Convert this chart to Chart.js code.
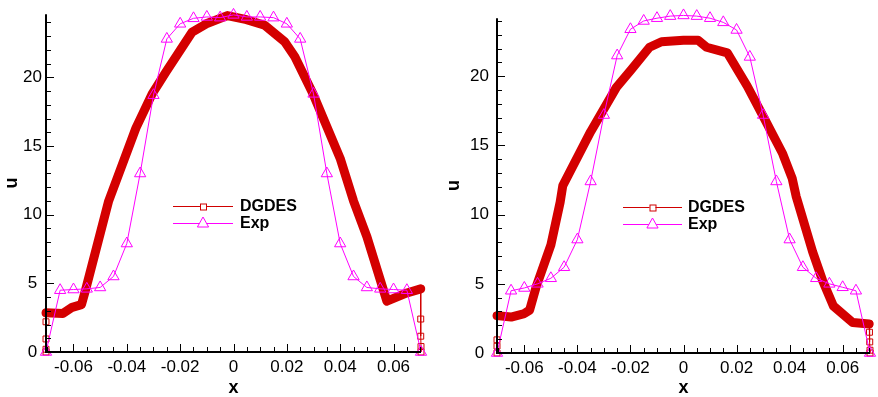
<!DOCTYPE html>
<html>
<head>
<meta charset="utf-8">
<script src="https://cdn.jsdelivr.net/npm/chart.js@4.4.0/dist/chart.umd.min.js"></script>
<style>
  html, body { margin:0; padding:0; background:#fff; overflow:hidden; }
  .panel { position:absolute; top:0; }
</style>
</head>
<body>
<div class="panel" style="left:0"><canvas id="chLeft" width="440" height="397"></canvas></div>
<div class="panel" style="left:440px"><canvas id="chRight" width="438" height="397"></canvas></div>
<script>
// ---- data ----
const X_MIN = -0.0703, X_MAX = 0.0703;

// experiment stations (same in both panels)
const expX = [-0.0703, -0.065, -0.060, -0.055, -0.050, -0.045, -0.040, -0.035, -0.030, -0.025,
              -0.020, -0.015, -0.010, -0.005, 0, 0.005, 0.010, 0.015, 0.020, 0.025,
              0.030, 0.035, 0.040, 0.045, 0.050, 0.055, 0.060, 0.065, 0.0703];
const expLeftU  = [0, 4.5, 4.55, 4.6, 4.7, 5.5, 7.9, 13.0, 18.7, 22.8,
                   23.9, 24.3, 24.4, 24.35, 24.55, 24.4, 24.4, 24.35, 23.9, 22.8,
                   18.8, 13.0, 7.9, 5.5, 4.7, 4.6, 4.55, 4.5, 0];
const expRightU = [0, 4.5, 4.7, 5.0, 5.4, 6.2, 8.2, 12.4, 17.2, 21.5,
                   23.4, 24.0, 24.2, 24.35, 24.4, 24.35, 24.2, 23.9, 23.35, 21.4,
                   17.2, 12.4, 8.2, 6.2, 5.4, 5.0, 4.75, 4.5, 0];

// DGDES, left panel (dense profile)
const dgLeftX = [-0.0703, -0.064, -0.0605, -0.057, -0.0555, -0.0468, -0.0366, -0.0305, -0.0253, -0.0155,
                 -0.0102, -0.0023, 0.0049, 0.0117, 0.0192, 0.023, 0.0298, 0.040, 0.045, 0.050,
                 0.0575, 0.065, 0.0702];
const dgLeftU = [2.85, 2.8, 3.25, 3.45, 4.5, 11.0, 16.3, 18.8, 20.4, 23.3,
                 23.9, 24.5, 24.2, 23.8, 22.6, 21.5, 18.8, 14.1, 11.0, 8.4,
                 3.7, 4.3, 4.6];
// DGDES near-wall points, left panel
const wallLeftAX = [-0.0703, -0.0703, -0.0703, -0.0703, -0.0703];
const wallLeftAU = [2.85, 2.2, 0.95, 0.2, 0];
const wallLeftBX = [0.0702, 0.0702, 0.0702, 0.0703, 0.0703];
const wallLeftBU = [4.6, 2.4, 1.15, 0.4, 0];

// DGDES, right panel
const dgRightX = [-0.0703, -0.065, -0.060, -0.058, -0.0555, -0.050, -0.0465, -0.0455, -0.035, -0.0253,
                  -0.0196, -0.0128, -0.0083, 0.0, 0.0055, 0.0087, 0.0165, 0.024, 0.0306, 0.0374,
                  0.041, 0.0425, 0.0487, 0.0525, 0.0565, 0.0638, 0.0700];
const dgRightU = [2.7, 2.6, 2.85, 3.1, 4.8, 7.8, 10.9, 12.1, 16.0, 19.2,
                  20.5, 22.1, 22.5, 22.6, 22.6, 22.1, 21.7, 19.3, 16.9, 14.4,
                  12.6, 11.3, 7.3, 5.2, 3.4, 2.2, 2.1];
const wallRightAX = [-0.0703, -0.0703, -0.0703, -0.0703];
const wallRightAU = [2.7, 0.95, 0.5, 0];
const wallRightBX = [0.0700, 0.0701, 0.0702, 0.0703, 0.0703];
const wallRightBU = [2.1, 1.5, 0.8, 0.2, 0];

const seriesNames = ['DGDES', 'Exp'];

// ---- styling ----
const FONT = "'Liberation Sans', Arial, Helvetica, sans-serif";
const RED = '#d40000';
const WALL = '#d00000';
const MAG = '#ff00ff';

function pts(xs, us){ return xs.map((x, i) => ({ x, y: us[i] })); }

function fmtX(v){
  const r = Math.round(v * 100) / 100;
  return r === 0 ? '0' : String(r);
}

// axes drawn Tecplot-style: thick lines, ticks pointing into the plot
const tecAxes = {
  id: 'tecAxes',
  afterDraw(chart){
    const { ctx, chartArea: a, scales: { x, y } } = chart;
    ctx.save();
    ctx.strokeStyle = '#000';
    ctx.lineWidth = 1;
    for (let k = -14; k <= 14; k++){
      const v = k * 0.005;
      if (v < X_MIN || v > X_MAX) continue;
      const px = Math.round(x.getPixelForValue(v)) + 0.5;
      const len = (k % 4 === 0) ? 8 : 5;
      ctx.beginPath(); ctx.moveTo(px, a.bottom); ctx.lineTo(px, a.bottom - len); ctx.stroke();
    }
    for (let k = 0; k <= Math.floor(y.max); k++){
      const py = Math.round(y.getPixelForValue(k)) + 0.5;
      const len = (k % 5 === 0) ? 8 : 5;
      ctx.beginPath(); ctx.moveTo(a.left, py); ctx.lineTo(a.left + len, py); ctx.stroke();
    }
    ctx.lineWidth = 2;
    ctx.beginPath();
    ctx.moveTo(a.left, a.top);
    ctx.lineTo(a.left, a.bottom);
    ctx.lineTo(a.right, a.bottom);
    ctx.stroke();
    ctx.restore();
  }
};

// legend box placed inside the plot
const innerLegend = {
  id: 'innerLegend',
  afterDraw(chart, args, o){
    const { ctx } = chart;
    ctx.save();
    ctx.font = `bold 16px ${FONT}`;
    ctx.textBaseline = 'middle';
    ctx.fillStyle = '#000';
    const mid = (o.x0 + o.x1) / 2;
    // DGDES row
    ctx.strokeStyle = WALL; ctx.lineWidth = 1;
    ctx.beginPath(); ctx.moveTo(o.x0, o.y0 + 0.5); ctx.lineTo(o.x1, o.y0 + 0.5); ctx.stroke();
    ctx.fillStyle = '#fff';
    ctx.fillRect(mid - 3, o.y0 - 2.5, 6, 6);
    ctx.strokeRect(mid - 3 + 0.5, o.y0 - 2.5 + 0.5, 6, 6);
    // Exp row
    ctx.strokeStyle = MAG;
    ctx.beginPath(); ctx.moveTo(o.x0, o.y1 + 0.5); ctx.lineTo(o.x1, o.y1 + 0.5); ctx.stroke();
    ctx.beginPath();
    ctx.moveTo(mid, o.y1 - 6); ctx.lineTo(mid + 5.6, o.y1 + 4); ctx.lineTo(mid - 5.6, o.y1 + 4); ctx.closePath();
    ctx.fill(); ctx.stroke();
    ctx.fillStyle = '#000';
    ctx.fillText(seriesNames[0], o.tx, o.y0 + 1);
    ctx.fillText(seriesNames[1], o.tx, o.y1 + 1);
    ctx.restore();
  }
};

function makePanel(id, cfg){
  const wallStyle = {
    showLine: true, borderColor: WALL, borderWidth: 1,
    pointStyle: 'rect', pointRadius: 4.2, pointBorderColor: WALL,
    pointBackgroundColor: 'rgba(255,255,255,0)', pointBorderWidth: 1, clip: false, order: 2
  };
  return new Chart(document.getElementById(id), {
    type: 'scatter',
    data: {
      datasets: [
        { label: 'Exp', data: pts(expX, cfg.exp), showLine: true, borderColor: MAG, borderWidth: 1,
          pointStyle: 'triangle', pointRadius: 6.5, pointBorderColor: MAG, pointBorderWidth: 1,
          pointBackgroundColor: 'rgba(255,255,255,0)', clip: false, order: 1 },
        { label: 'DGDES', data: pts(cfg.dgX, cfg.dgU), showLine: true, borderColor: RED, borderWidth: 9,
          borderJoinStyle: 'round', borderCapStyle: 'round', pointRadius: 0, clip: false, order: 3 },
        { label: 'wallA', data: pts(cfg.wAX, cfg.wAU), ...wallStyle },
        { label: 'wallB', data: pts(cfg.wBX, cfg.wBU), ...wallStyle }
      ]
    },
    options: {
      responsive: false, animation: false, devicePixelRatio: 1,
      layout: { padding: { left: 0, top: 12, right: cfg.padRight, bottom: 0 } },
      plugins: { legend: { display: false }, tooltip: { enabled: false }, innerLegend: cfg.legend },
      scales: {
        x: {
          type: 'linear', min: X_MIN, max: X_MAX,
          grid: { display: false, drawTicks: false }, border: { display: false },
          ticks: { stepSize: 0.02, includeBounds: false, autoSkip: false, maxRotation: 0,
                   padding: 5, color: '#000', font: { family: FONT, size: 17 }, callback: fmtX },
          title: { display: true, text: 'x', color: '#000', padding: 0,
                   font: { family: FONT, size: 18, weight: 'bold', lineHeight: 1 } },
          afterFit(s){ s.height = cfg.xH; }
        },
        y: {
          type: 'linear', min: 0, max: cfg.yMax,
          grid: { display: false, drawTicks: false }, border: { display: false },
          ticks: { stepSize: 5, includeBounds: false, crossAlign: 'center', padding: cfg.yPad,
                   color: '#000', font: { family: FONT, size: 17 } },
          title: { display: true, text: 'u', color: '#000', padding: { top: cfg.uPad, bottom: 0 },
                   font: { family: FONT, size: 18, weight: 'bold', lineHeight: 1 } },
          afterFit(s){ s.width = cfg.yW; }
        }
      }
    },
    plugins: [tecAxes, innerLegend]
  });
}

makePanel('chLeft', {
  exp: expLeftU, dgX: dgLeftX, dgU: dgLeftU,
  wAX: wallLeftAX, wAU: wallLeftAU, wBX: wallLeftBX, wBU: wallLeftBU,
  yMax: 24.6, yW: 46, xH: 45, padRight: 19, yPad: 4, uPad: 3,
  legend: { x0: 173, x1: 233, y0: 206, y1: 223, tx: 240 }
});

makePanel('chRight', {
  exp: expRightU, dgX: dgRightX, dgU: dgRightU,
  wAX: wallRightAX, wAU: wallRightAU, wBX: wallRightBX, wBU: wallRightBU,
  yMax: 24.2, yW: 57, xH: 44, padRight: 8, yPad: 8, uPad: 5,
  legend: { x0: 183, x1: 242, y0: 207, y1: 224, tx: 248 }
});
</script>
</body>
</html>
